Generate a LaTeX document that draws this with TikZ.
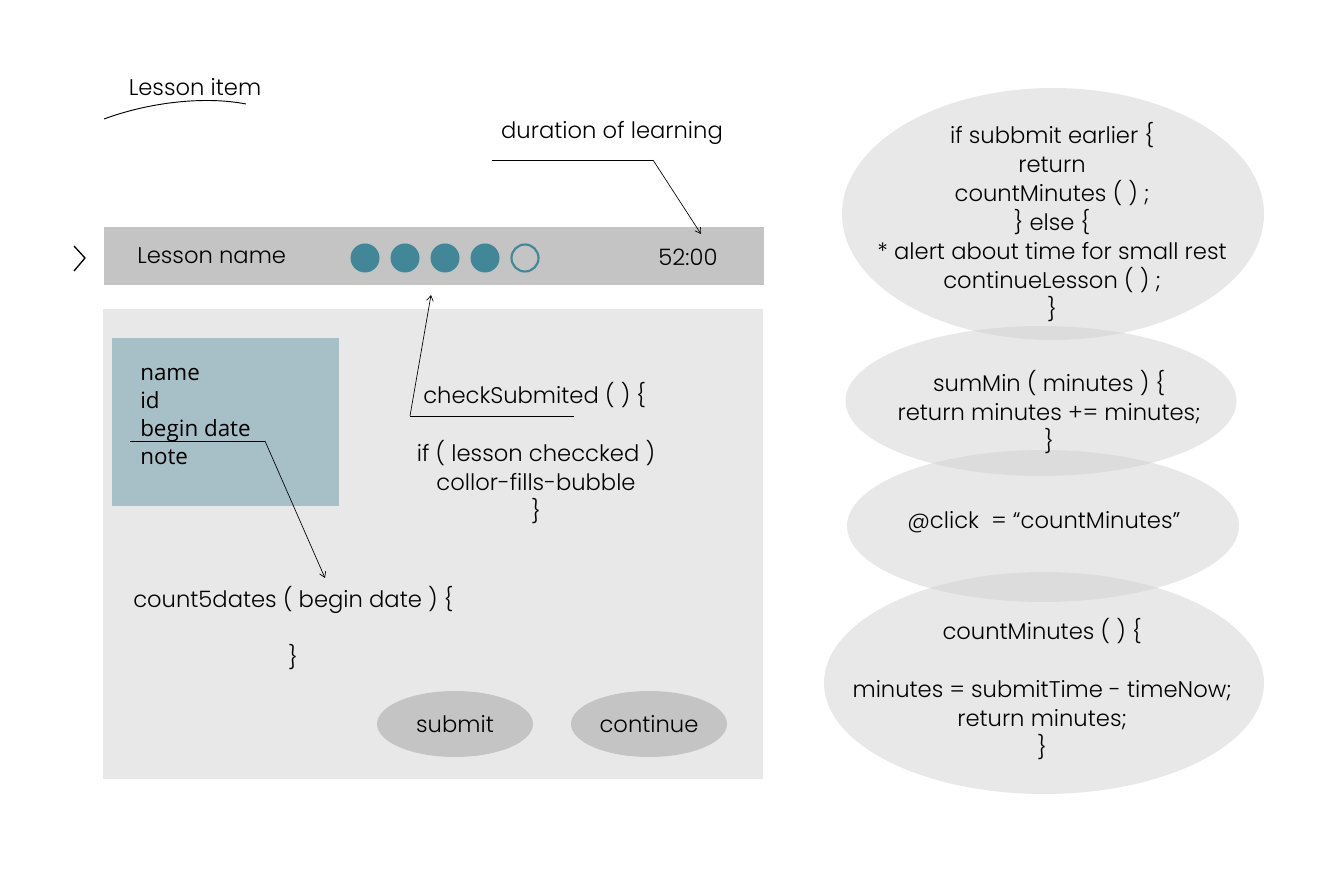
\documentclass[tikz,border=0pt]{standalone}
\usepackage{fontspec}
\setmainfont{Poppins}[UprightFont=* Light]
\newfontfamily\listfont{Open Sans}
\usetikzlibrary{arrows.meta,shapes.geometric}
\definecolor{teal1}{HTML}{418797}
\definecolor{barg}{HTML}{C4C4C4}
\definecolor{panelg}{HTML}{E8E8E8}
\definecolor{boxb}{HTML}{A7C0C8}
\definecolor{ellg}{HTML}{CFCFCF}
\tikzset{
  txt/.style={font=\fontsize{17pt}{21.75pt}\selectfont, inner sep=0pt, align=center},
  lst/.style={font=\listfont\fontsize{16.8pt}{21pt}\selectfont, inner sep=0pt, anchor=base west},
  dot/.style={circle, fill=teal1, minimum size=29*0.75pt, inner sep=0pt},
  odot/.style={circle, draw=teal1, line width=1.6pt, minimum size=27*0.75pt, inner sep=0pt},
  btn/.style={ellipse, fill=barg, minimum width=156*0.75pt, minimum height=66*0.75pt, inner sep=0pt},
  bub/.style={ellipse, fill=ellg, fill opacity=0.48, inner sep=0pt},
  conn/.style={draw=black, line width=0.5pt},
  tip/.style={-{Straight Barb[length=4pt,width=5pt]}},
}
\begin{document}
\begin{tikzpicture}[x=0.75pt,y=-0.75pt]
\useasboundingbox (0,0) rectangle (1329,880);
% title
\node[txt] (title) at (195,87) {Lesson item};
\coordinate (arcA) at (104,119);
\coordinate (arcB) at (246,104);
\draw[conn, line width=0.7pt] (arcA) .. controls (150,102) and (205,96) .. (arcB);
% duration label
\node[txt] (dur) at (612,133) {duration of learning};
% bar
\node[fill=barg, minimum width=660*0.75pt, minimum height=58*0.75pt, inner sep=0pt, anchor=north west] (bar) at (104,227) {};
\coordinate (chevA) at (74,246);
\coordinate (chevB) at (85,258);
\coordinate (chevC) at (74,271);
\draw[line width=1pt] (chevA) -- (chevB) -- (chevC);
\node[txt, anchor=west] (lname) at (137,256) {Lesson name};
\node[dot] (c1) at (365,258) {};
\node[dot] (c2) at (405,258) {};
\node[dot] (c3) at (445,258) {};
\node[dot] (c4) at (485,258) {};
\node[odot] (c5) at (525,258) {};
\node[txt] (time) at (688,257) {52:00};
% duration connector
\coordinate (durL) at (492,160);
\coordinate (durK) at (653,160);
\coordinate (durT) at (701,234);
\draw[conn] (durL) -- (durK);
\draw[conn, tip] (durK) -- (durT);
% panel
\node[fill=panelg, minimum width=660*0.75pt, minimum height=470*0.75pt, inner sep=0pt, anchor=north west] (panel) at (103,309) {};
\node[fill=boxb, minimum width=227*0.75pt, minimum height=168*0.75pt, inner sep=0pt, anchor=north west] (info) at (112,338) {};
\node[lst] (l1) at (140,381) {name};
\node[lst] (l2) at (140,409) {id};
\node[lst] (l3) at (140,437) {begin date};
\node[lst] (l4) at (140,465) {note};
% begin date connector
\coordinate (bdL) at (130,441);
\coordinate (bdK) at (265,441);
\coordinate (bdT) at (325,578);
\draw[conn] (bdL) -- (bdK);
\draw[conn, tip] (bdK) -- (bdT);
\node[txt, anchor=west] (cnt) at (133,600) {count5dates ( begin date ) \{};
\node[txt] (cntend) at (293,657) {\}};
% checkSubmited
\node[txt, anchor=west] (chk) at (423,395) {checkSubmited ( ) \{};
\coordinate (chkR) at (574,416);
\coordinate (chkK) at (410,416);
\coordinate (chkT) at (431,295);
\draw[conn] (chkR) -- (chkK);
\draw[conn, tip] (chkK) -- (chkT);
\node[txt] (chkbody) at (536,482) {if ( lesson checcked )\\collor-fills-bubble\\\}};
% buttons
\node[btn] (submit) at (455,724) {};
\node[txt] at (submit) {submit};
\node[btn] (cont) at (649,724) {};
\node[txt] at (cont) {continue};
% bubbles
\node[bub, minimum width=422*0.75pt, minimum height=252*0.75pt] (b1) at (1053,214) {};
\node[bub, minimum width=391*0.75pt, minimum height=150*0.75pt] (b2) at (1041,401) {};
\node[bub, minimum width=392*0.75pt, minimum height=152*0.75pt] (b3) at (1043,526) {};
\node[bub, minimum width=440*0.75pt, minimum height=222*0.75pt] (b4) at (1044,683) {};
\node[txt] (t1) at (1052,222) {if subbmit earlier \{\\return\\countMinutes ( ) ;\\\} else \{\\* alert about time for small rest\\continueLesson ( ) ;\\\}};
\node[txt] (t2) at (1049,412) {sumMin ( minutes ) \{\\return minutes += minutes;\\\}};
\node[txt, anchor=west] (t3) at (907,522) {@click~~= “countMinutes”};
\node[txt] (t4) at (1042,689) {countMinutes ( ) \{\\[21.75pt]minutes = submitTime - timeNow;\\return minutes;\\\}};
\end{tikzpicture}
\end{document}
